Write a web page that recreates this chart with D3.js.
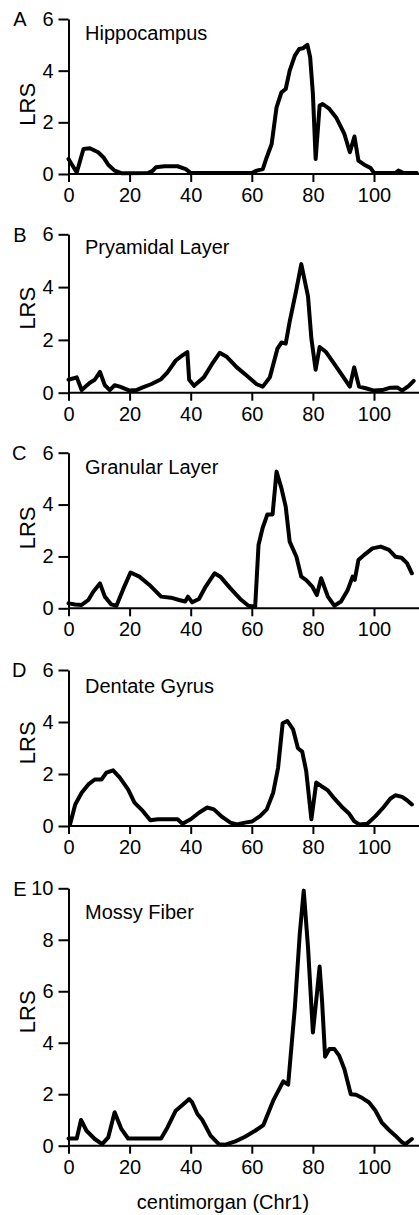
<!DOCTYPE html>
<html><head><meta charset="utf-8">
<script src="https://cdn.jsdelivr.net/npm/d3@7"></script>
<style>
html,body{margin:0;padding:0;background:#fff;}
svg{display:block;font-family:"Liberation Sans",Arial,Helvetica,sans-serif;}
</style></head>
<body><svg id="c" width="419" height="1215"></svg>
<script>
// ---- data ----
const xTicks = [0, 20, 40, 60, 80, 100];
const yTicksSmall = [0, 2, 4, 6];
const yTicksLarge = [0, 2, 4, 6, 8, 10];
const panelLetters = ["A", "B", "C", "D", "E"];
const panelTitles = ["Hippocampus", "Pryamidal Layer", "Granular Layer", "Dentate Gyrus", "Mossy Fiber"];
const xLabel = "centimorgan (Chr1)";
const yLabel = "LRS";

const hippocampus = [[0,0.58],[2.7,0.06],[4.9,0.97],[7,1.0],[9.7,0.84],[11.4,0.65],[13,0.36],[15.1,0.13],[17.3,0.03],[26,0.04],[27.5,0.12],[28.6,0.26],[31.4,0.3],[35.7,0.3],[38.4,0.19],[40,0.04],[60,0.04],[61.6,0.13],[63.6,0.19],[64.9,0.65],[66.5,1.16],[68.1,2.58],[69.7,3.16],[71.1,3.29],[72.4,4.0],[74.1,4.58],[75.5,4.84],[76.8,4.87],[78.2,5.0],[79.1,4.52],[80,3.1],[80.9,0.58],[82.2,2.65],[83.2,2.71],[85.4,2.52],[87.6,2.19],[90.3,1.55],[92.1,0.84],[93.6,1.45],[94.9,0.52],[96.8,0.36],[98.9,0.23],[100,0.04],[107,0.04],[108,0.13],[109.7,0.04],[114,0.04]];

const pyramidal = [[0,0.49],[2.7,0.58],[4.3,0.1],[7,0.38],[8.6,0.49],[10.3,0.79],[11.9,0.28],[13.5,0.1],[15.1,0.28],[16.8,0.23],[20,0.08],[22.2,0.1],[24.3,0.2],[27,0.32],[30.3,0.51],[32.4,0.77],[35.1,1.22],[37.3,1.41],[38.9,1.54],[39.5,0.49],[41.1,0.26],[44.3,0.58],[47,1.09],[49.5,1.51],[51.9,1.35],[55.1,0.96],[58.4,0.64],[61.6,0.32],[63.6,0.23],[65.9,0.58],[68.4,1.67],[69.7,1.9],[71.1,1.86],[72.4,2.69],[74.6,3.91],[76.2,4.87],[78.4,3.65],[79.5,2.05],[80.9,0.87],[82.2,1.73],[84.3,1.54],[87,1.09],[89.7,0.64],[92.1,0.23],[93.5,0.96],[95.1,0.23],[97.3,0.17],[100,0.08],[102.7,0.1],[105.4,0.19],[107.6,0.2],[109.2,0.08],[111.4,0.26],[113,0.45]];

const granular = [[0,0.19],[2.2,0.15],[4.3,0.13],[6.5,0.32],[8.1,0.64],[10.3,0.96],[11.9,0.45],[14,0.15],[15.7,0.1],[17.8,0.71],[20.3,1.38],[23.2,1.22],[26.5,0.9],[30.3,0.45],[33.5,0.41],[36.2,0.32],[38.2,0.26],[39.1,0.45],[40.5,0.23],[42.7,0.36],[44.9,0.84],[47.8,1.35],[49.7,1.22],[53,0.77],[56.2,0.36],[58.9,0.1],[61.1,0.06],[62.2,2.44],[63.5,3.08],[65.1,3.62],[66.8,3.62],[68.1,5.27],[69.7,4.63],[71.1,3.92],[72.4,2.57],[74.6,1.99],[76.2,1.22],[77.8,1.09],[79.8,0.84],[81.3,0.51],[82.7,1.16],[84.9,0.45],[87,0.1],[89.2,0.26],[91.4,0.71],[93,1.22],[93.7,1.1],[94.9,1.86],[96.8,2.06],[99.5,2.31],[102.2,2.38],[104.9,2.25],[107,1.99],[109,1.95],[110.8,1.74],[112.4,1.35]];

const dentate = [[0.5,0.06],[2.2,0.83],[4.3,1.28],[6.5,1.6],[8.6,1.79],[10.8,1.79],[12.4,2.05],[14.6,2.14],[16.8,1.86],[19.5,1.41],[21.6,0.9],[24.3,0.58],[26.8,0.22],[29.2,0.26],[35.7,0.26],[37.3,0.09],[40,0.26],[42.7,0.51],[45.4,0.71],[47.6,0.64],[50.3,0.35],[53,0.13],[55.1,0.06],[57.8,0.13],[60,0.17],[62.7,0.38],[64.9,0.64],[67,1.28],[68.6,2.24],[70.1,3.95],[71.6,4.04],[73.5,3.72],[75.1,2.99],[76.5,2.86],[77.8,2.12],[79.5,0.26],[81.1,1.67],[82.7,1.54],[84.9,1.37],[87,1.06],[89.7,0.71],[91.9,0.47],[93.5,0.19],[95.1,0.06],[97.8,0.09],[100.5,0.38],[103.2,0.73],[105.4,1.06],[107,1.18],[109.2,1.12],[110.8,0.99],[112.4,0.83]];

const mossy = [[0,0.28],[2.7,0.28],[4.1,1.0],[5.9,0.58],[8.6,0.26],[11,0.06],[13,0.32],[15.1,1.3],[17.3,0.65],[19.5,0.28],[30.3,0.28],[32.4,0.71],[35.1,1.36],[37.3,1.58],[39.5,1.81],[40.5,1.68],[42.2,1.23],[43.8,1.0],[46.5,0.39],[49.2,0.06],[51.4,0.04],[54.6,0.17],[57.8,0.35],[61.1,0.58],[63.8,0.8],[67,1.75],[70.3,2.5],[71.9,2.37],[74.1,5.38],[75.7,8.23],[77,9.91],[78.4,7.71],[80,4.4],[81.3,5.89],[82.2,6.96],[83,5.63],[84,3.46],[85.4,3.76],[87,3.76],[88.6,3.5],[90.3,2.98],[92.4,2.0],[94.1,1.98],[96.2,1.85],[98.4,1.68],[100.5,1.36],[102.5,0.91],[104.9,0.61],[107,0.39],[109.2,0.13],[110.3,0.06],[112.4,0.26]];

const series = [hippocampus, pyramidal, granular, dentate, mossy];
const yMaxes = [6, 6, 6, 6, 10];

// ---- layout ----
const layout = [
  {top:19,    bottom:174,    lrsAt:2.7, titleDy:21},
  {top:234.3, bottom:392.7,  lrsAt:3.2, titleDy:19.5},
  {top:452.7, bottom:608.3,  lrsAt:3.1, titleDy:21.5},
  {top:670,   bottom:826,    lrsAt:3.2, titleDy:23},
  {top:888.3, bottom:1145.7, lrsAt:5.2, titleDy:31}
];
const W = 419;
const x0 = 68.5, x100 = 374;

const svg = d3.select("#c");
const x = d3.scaleLinear().domain([0, 100]).range([x0, x100]);

panelTitles.forEach((title, i) => {
  const L = layout[i];
  const y = d3.scaleLinear().domain([0, yMaxes[i]]).range([L.bottom, L.top]);
  const g = svg.append("g");

  // x axis
  const xa = g.append("g").attr("transform", `translate(0,${L.bottom})`)
    .call(d3.axisBottom(x).tickValues(xTicks).tickSize(8).tickPadding(6).tickSizeOuter(0));
  xa.select(".domain").remove();
  xa.append("line").attr("x1", x0).attr("x2", W).attr("y1", 0).attr("y2", 0)
    .attr("stroke", "#000").attr("stroke-width", 2);
  xa.selectAll(".tick line").attr("stroke", "#000").attr("stroke-width", 2);
  xa.selectAll(".tick text").attr("font-size", 20).attr("fill", "#000")
    .style("font-family", "'Liberation Sans',Arial,sans-serif");

  // y axis
  const ya = g.append("g").attr("transform", `translate(${x0},0)`)
    .call(d3.axisLeft(y).tickValues(yMaxes[i] === 10 ? yTicksLarge : yTicksSmall)
      .tickFormat(d3.format("d")).tickSize(10).tickPadding(5).tickSizeOuter(0));
  ya.select(".domain").attr("stroke", "#000").attr("stroke-width", 2);
  ya.selectAll(".tick line").attr("stroke", "#000").attr("stroke-width", 2);
  ya.selectAll(".tick text").attr("font-size", 20).attr("fill", "#000")
    .style("font-family", "'Liberation Sans',Arial,sans-serif");

  // panel letter
  g.append("text").attr("x", 26.5).attr("y", L.top).attr("dy", "0.36em")
    .attr("text-anchor", "end").attr("font-size", 20).attr("fill", "#000").text(panelLetters[i]);

  // LRS label
  g.append("text")
    .attr("transform", `translate(27,${y(L.lrsAt)}) rotate(-90)`)
    .attr("text-anchor", "middle").attr("dy", "0.36em")
    .attr("font-size", 22).attr("fill", "#000").text(yLabel);

  // title
  g.append("text").attr("x", 85).attr("y", L.top + L.titleDy)
    .attr("font-size", 20).attr("fill", "#000").text(title);

  // curve
  const line = d3.line().x(d => x(d[0])).y(d => y(d[1]));
  g.append("path").datum(series[i]).attr("d", line)
    .attr("fill", "none").attr("stroke", "#000").attr("stroke-width", 4)
    .attr("stroke-linejoin", "round").attr("stroke-linecap", "round");
});

svg.append("text").attr("x", 223).attr("y", 1209).attr("text-anchor", "middle")
  .attr("font-size", 20).attr("fill", "#000").text(xLabel);
</script></body></html>
